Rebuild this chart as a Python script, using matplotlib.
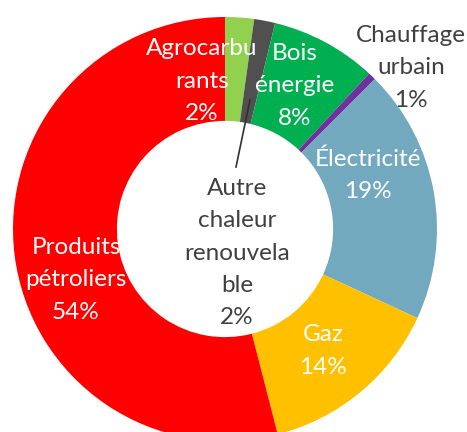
import matplotlib
matplotlib.use("Agg")
import matplotlib.pyplot as plt

labels = ["Agrocarbu\nrants", "Autre\nchaleur\nrenouvela\nble", "Bois\nénergie",
          "Chauffage\nurbain", "Électricité", "Gaz", "Produits\npétroliers"]
pct_labels = ["2%", "2%", "8%", "1%", "19%", "14%", "54%"]
values = [2.2, 1.6, 8.1, 0.6, 19.4, 14.1, 54.0]
colors = ["#92D050", "#505050", "#00B050", "#7030A0", "#72A9BF", "#FFC000", "#FF0000"]

W, H = 467, 432
fig = plt.figure(figsize=(W / 100, H / 100), dpi=100)
ax = fig.add_axes([0, 0, 1, 1])

cx, cy, R = 225, H - 229, 212
ax.pie(values, colors=colors, startangle=90, counterclock=False,
       center=(cx, cy), radius=R,
       wedgeprops=dict(width=R * 0.49, linewidth=0))
ax.set_xlim(0, W)
ax.set_ylim(0, H)
ax.set_aspect("equal", adjustable="datalim")
ax.axis("off")

font = "Lato"
fs = 17.5
white = "#FFFFFF"
dark = "#404040"
# label positions in pixel coords (x, y from top)
pos = [(202, 81), (237, 253), (295, 86), (411, 68), (368, 175), (323, 351), (76, 280)]
tcolors = [white, dark, white, dark, white, white, white]
for lab, p, (px, py), tc in zip(labels, pct_labels, pos, tcolors):
    ax.text(px, H - py, lab + "\n" + p, ha="center", va="center", color=tc,
            fontsize=fs, family=font, linespacing=1.65)

# leader line for "Autre chaleur renouvelable"
ax.plot([250, 236], [H - 100, H - 167], color="#303030", linewidth=1.2)

fig.savefig("out.png", dpi=100)
